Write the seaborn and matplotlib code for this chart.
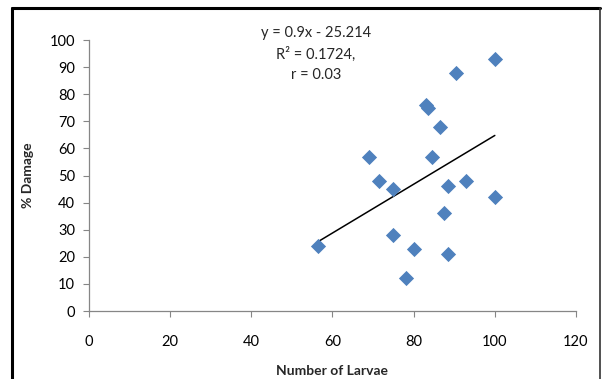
import numpy as np
import pandas as pd
import matplotlib
matplotlib.use('Agg')
import matplotlib.pyplot as plt
from matplotlib.lines import Line2D
import seaborn as sns

# данные
larvae = [56.5, 69, 71.5, 75, 75, 78, 80, 83, 83.5, 84.5, 86.5, 87.5, 88.5, 88.5, 90.5, 93, 100, 100]
damage = [24, 57, 48, 45, 28, 12, 23, 76, 75, 57, 68, 36, 46, 21, 88, 48, 93, 42]

# линия тренда из подписи на графике
slope = 0.9
intercept = -25.214
eq_lines = ['y = 0.9x - 25.214', 'R\u00b2 = 0.1724,', 'r = 0.03']

x_ticks = [0, 20, 40, 60, 80, 100, 120]
y_ticks = [0, 10, 20, 30, 40, 50, 60, 70, 80, 90, 100]

df = pd.DataFrame({'Number of Larvae': larvae, '% Damage': damage})

sns.set_style('white')
plt.rcParams['font.family'] = ['Lato', 'DejaVu Sans']

fig = plt.figure(figsize=(6.02, 3.79), dpi=100)
ax = fig.add_axes([0.1478, 0.1794, 0.809, 0.715])

sns.scatterplot(data=df, x='Number of Larvae', y='% Damage', marker='D', s=60,
                color='#4F81BD', edgecolor='#4F81BD', linewidth=0, ax=ax, zorder=3)

x_line = np.array([min(larvae), max(larvae)])
sns.lineplot(x=x_line, y=slope * x_line + intercept, color='black', linewidth=1.1, ax=ax, zorder=2)

ax.set_xlim(0, 120)
ax.set_ylim(0, 100)
ax.set_xticks(x_ticks)
ax.set_yticks(y_ticks)
ax.tick_params(axis='both', direction='out', length=4, width=0.8, color='#868686',
               labelsize=10.5, labelcolor='black', left=True, bottom=True)
ax.tick_params(axis='x', pad=13)
ax.tick_params(axis='y', pad=6)
for side in ['top', 'right']:
    ax.spines[side].set_visible(False)
for side in ['left', 'bottom']:
    ax.spines[side].set_color('#868686')
    ax.spines[side].set_linewidth(0.9)

ax.set_xlabel('Number of Larvae', fontsize=10, fontweight='bold', labelpad=12)
ax.set_ylabel('% Damage', fontsize=10, fontweight='bold', labelpad=11)

ax.text(0.466, 1.05, '\n'.join(eq_lines), transform=ax.transAxes, ha='center', va='top',
        fontsize=10.5, linespacing=1.55, clip_on=False)

# рамка вокруг рисунка
fig.add_artist(Line2D([12 / 602, 12 / 602], [0, 1 - 8 / 379], color='black', linewidth=2.2))
fig.add_artist(Line2D([12 / 602, 600 / 602], [1 - 8 / 379, 1 - 8 / 379], color='black', linewidth=2.2))
fig.add_artist(Line2D([600 / 602, 600 / 602], [0, 1 - 8 / 379], color='#333333', linewidth=1.2))

fig.savefig('out.png', dpi=100)
